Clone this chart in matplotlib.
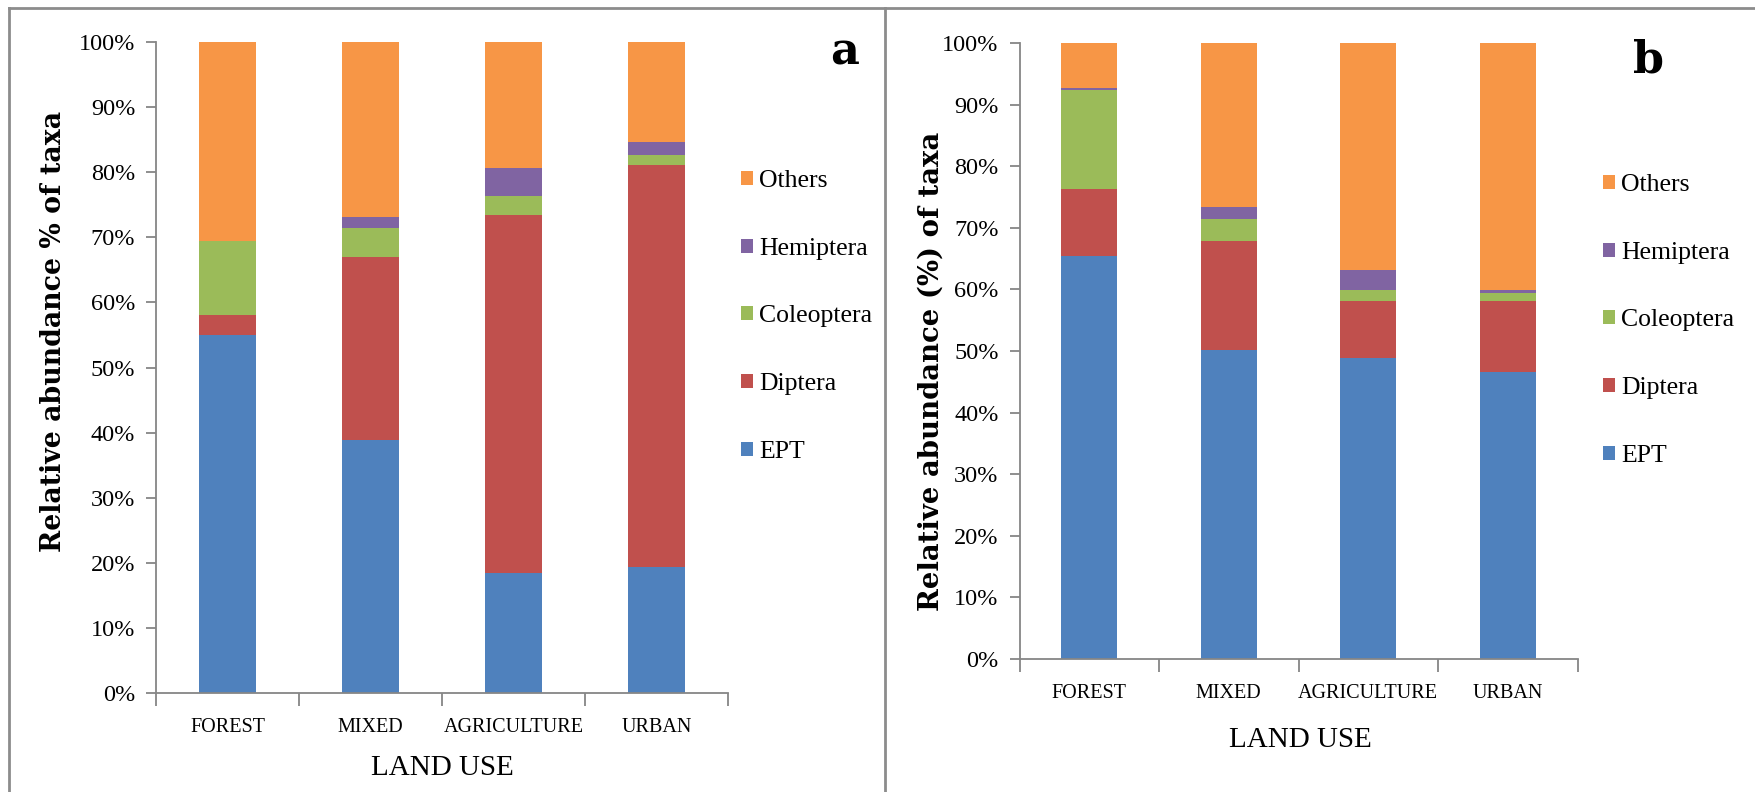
import matplotlib
matplotlib.use("Agg")
import matplotlib.pyplot as plt
from matplotlib.patches import Patch
from matplotlib.lines import Line2D
import numpy as np

plt.rcParams['font.family'] = 'Liberation Serif'

# Data (relative abundance, % of taxa)
land_use = ["FOREST", "MIXED", "AGRICULTURE", "URBAN"]
taxa = ["EPT", "Diptera", "Coleoptera", "Hemiptera", "Others"]
colors = ["#4F81BD", "#C0504D", "#9BBB59", "#8064A2", "#F79646"]

# panel a
a_ept = [55.0, 38.9, 18.5, 19.4]
a_diptera = [3.0, 28.0, 54.9, 61.7]
a_coleoptera = [11.5, 4.5, 2.9, 1.6]
a_hemiptera = [0.0, 1.7, 4.4, 1.9]
a_others = [30.5, 26.9, 19.3, 15.4]

# panel b
b_ept = [65.5, 50.1, 48.9, 46.6]
b_diptera = [10.8, 17.8, 9.2, 11.5]
b_coleoptera = [16.1, 3.6, 1.8, 1.3]
b_hemiptera = [0.3, 1.8, 3.2, 0.5]
b_others = [7.3, 26.7, 36.9, 40.1]

W, H = 1755, 792
fig = plt.figure(figsize=(W / 100, H / 100), dpi=100)

AXIS_GRAY = "#868686"


def px(x0, y0, x1, y1):
    # pixel box (top-left origin) -> figure fraction rect
    return [x0 / W, 1 - y1 / H, (x1 - x0) / W, (y1 - y0) / H]


def stacked(ax, series):
    x = np.arange(len(land_use))
    bottom = np.zeros(len(land_use))
    for vals, c in zip(series, colors):
        ax.bar(x, vals, width=0.4, bottom=bottom, color=c, linewidth=0)
        bottom += np.array(vals)

    ax.set_xlim(-0.5, len(land_use) - 0.5)
    ax.set_ylim(0, 100)
    ax.set_yticks(np.arange(0, 101, 10))
    ax.set_yticklabels([f"{v}%" for v in range(0, 101, 10)], fontsize=17.5)

    # category boundaries get the tick marks, names sit in between
    ax.set_xticks(np.arange(-0.5, len(land_use), 1.0))
    ax.set_xticklabels([])
    ax.set_xticks(x, minor=True)
    ax.set_xticklabels(land_use, minor=True, fontsize=14.5)
    ax.tick_params(axis="x", which="major", length=9, width=1.3, color=AXIS_GRAY)
    ax.tick_params(axis="x", which="minor", length=0, pad=18)
    ax.tick_params(axis="y", length=7, width=1.3, color=AXIS_GRAY, pad=8)

    for s in ["top", "right"]:
        ax.spines[s].set_visible(False)
    for s in ["left", "bottom"]:
        ax.spines[s].set_color(AXIS_GRAY)
        ax.spines[s].set_linewidth(1.3)


def legend(ax, x, y):
    handles = [Patch(facecolor=c, edgecolor="none", label=t)
               for t, c in zip(taxa, colors)][::-1]
    fig.legend(handles=handles, loc="upper left", bbox_to_anchor=(x / W, 1 - y / H),
               frameon=False, fontsize=18.5, handlelength=0.47, handleheight=0.47,
               handletextpad=0.25, labelspacing=1.78, borderpad=0, borderaxespad=0)


# panel a
ax1 = fig.add_axes(px(156, 42, 728, 693))
stacked(ax1, [a_ept, a_diptera, a_coleoptera, a_hemiptera, a_others])
fig.text(442 / W, 1 - 768 / H, "LAND USE", ha="center", va="center", fontsize=21)
fig.text(54 / W, 1 - 331 / H, "Relative abundance % of taxa", rotation=90,
         ha="center", va="center", fontsize=19.3, fontweight="bold", family="DejaVu Serif")
fig.text(845 / W, 1 - 52 / H, "a", ha="center", va="center", fontsize=32,
         fontweight="bold", family="DejaVu Serif")
legend(ax1, 741, 170)

# panel b
ax2 = fig.add_axes(px(1019.5, 43, 1577.5, 659))
stacked(ax2, [b_ept, b_diptera, b_coleoptera, b_hemiptera, b_others])
fig.text(1300 / W, 1 - 740 / H, "LAND USE", ha="center", va="center", fontsize=21)
fig.text(931 / W, 1 - 371 / H, "Relative abundance (%) of taxa", rotation=90,
         ha="center", va="center", fontsize=19.8, fontweight="bold", family="DejaVu Serif")
fig.text(1648 / W, 1 - 60 / H, "b", ha="center", va="center", fontsize=32,
         fontweight="bold", family="DejaVu Serif")
legend(ax2, 1603, 174)

# panel frames
frame = dict(color="#8c8c8c", linewidth=2, transform=fig.transFigure)
fig.add_artist(Line2D([9 / W, 1], [1 - 8 / H, 1 - 8 / H], **frame))
fig.add_artist(Line2D([9 / W, 9 / W], [0, 1 - 8 / H], **frame))
fig.add_artist(Line2D([885 / W, 885 / W], [0, 1 - 8 / H], **frame))

fig.savefig("out.png", dpi=100)
